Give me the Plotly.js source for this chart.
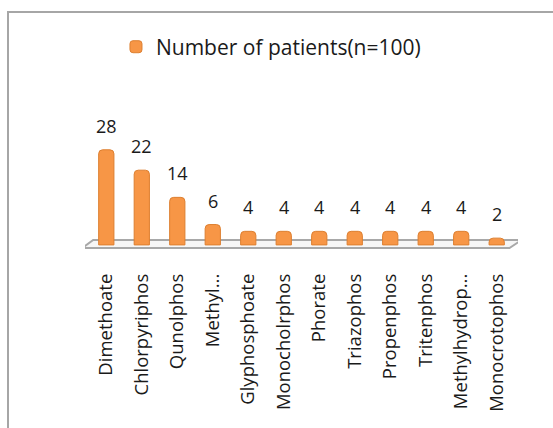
<!DOCTYPE html>
<html>
<head>
<meta charset="utf-8">
<script src="https://cdn.plot.ly/plotly-3.0.1.min.js"></script>
<style>
html,body{margin:0;padding:0;background:#fff;overflow:hidden;}
#frame{position:absolute;left:7px;top:11px;width:700px;height:600px;border:2px solid #a6a6a6;box-sizing:border-box;}
#chart{position:absolute;left:0;top:0;width:553px;height:428px;}
</style>
</head>
<body>
<div id="frame"></div>
<div id="chart"></div>
<script>
const categories = ["Dimethoate","Chlorpyriphos","Qunolphos","Methyl...","Glyphosphoate","Monocholrphos","Phorate","Triazophos","Propenphos","Tritenphos","Methylhydrop...","Monocrotophos"];
const patients = [28,22,14,6,4,4,4,4,4,4,4,2];
const seriesName = "Number of patients(n=100)";

const FONT = 'Open Sans, Liberation Sans, sans-serif';
const xIdx = categories.map((c,i)=>i);

const trace = {
  type: 'bar',
  x: xIdx,
  y: patients,
  name: seriesName,
  width: 0.43,
  marker: {color: '#F79646', line: {color: '#DD7F30', width: 1}, cornerradius: 4},
  hoverinfo: 'none',
  showlegend: true
};

const labels = patients.map((v,i)=>({
  x: xIdx[i], y: v, xref: 'x', yref: 'y',
  text: String(v), showarrow: false,
  yanchor: 'bottom', yshift: 10,
  font: {family: FONT, size: 18, color: '#1a1a1a'}
}));

const layout = {
  width: 553, height: 428,
  margin: {l: 85, r: 35, t: 143, b: 179},
  paper_bgcolor: 'rgba(0,0,0,0)',
  plot_bgcolor: 'rgba(0,0,0,0)',
  showlegend: true,
  legend: {
    orientation: 'h', xref: 'container', x: 0.49, xanchor: 'center',
    yref: 'container', y: 0.89, yanchor: 'middle',
    font: {family: FONT, size: 21, color: '#1a1a1a'},
    itemwidth: 30
  },
  xaxis: {
    range: [-0.6, 11.6],
    tickvals: xIdx, ticktext: categories,
    tickangle: -90,
    tickfont: {family: FONT, size: 18.5, color: '#1a1a1a'},
    showgrid: false, zeroline: false, showline: false, ticks: '',
    ticklabelstandoff: 20
  },
  yaxis: {
    range: [-1.2, 30],
    visible: false, showgrid: false, zeroline: false
  },
  annotations: labels,
  shapes: [{
    type: 'path', layer: 'below', xref: 'x', yref: 'y',
    path: 'M -0.67,-0.9 L -0.37,1.45 L 11.7,1.45 L 11.36,-0.9 Z',
    fillcolor: '#f6f6f6',
    line: {color: '#a8a8a8', width: 2}
  }]
};

Plotly.newPlot('chart', [trace], layout, {displayModeBar: false, staticPlot: true});
</script>
</body>
</html>
